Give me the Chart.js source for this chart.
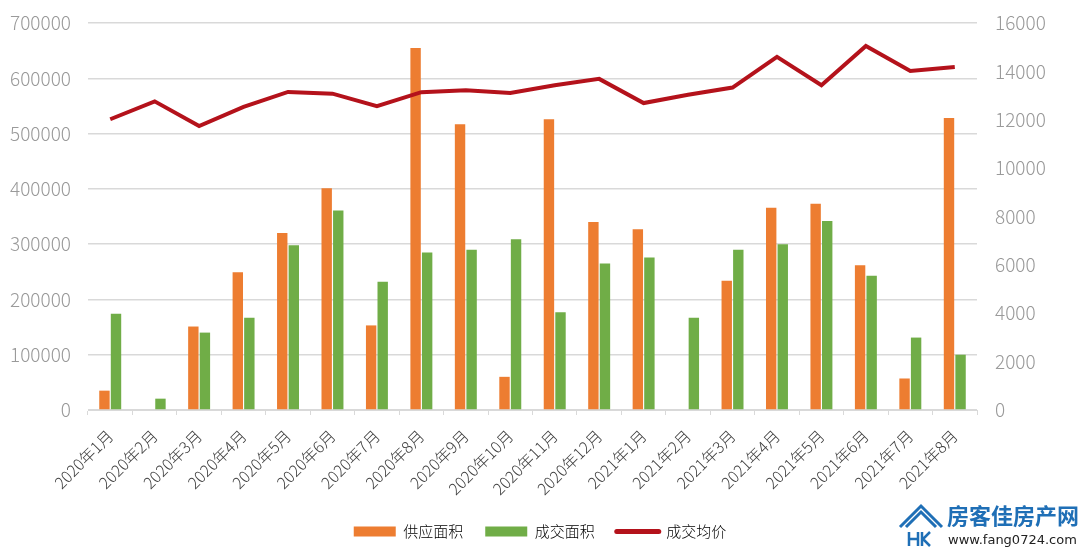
<!DOCTYPE html>
<html>
<head>
<meta charset="utf-8">
<script src="https://cdn.jsdelivr.net/npm/chart.js@4.4.1/dist/chart.umd.min.js"></script>
<style>
  html, body { margin: 0; padding: 0; background: #fff; }
  #wrap { width: 1080px; height: 554px; position: relative; }
</style>
</head>
<body>
<div id="wrap"><canvas id="mix"></canvas></div>
<script>
const months = [
  "2020年1月", "2020年2月", "2020年3月", "2020年4月", "2020年5月", "2020年6月",
  "2020年7月", "2020年8月", "2020年9月", "2020年10月", "2020年11月", "2020年12月",
  "2021年1月", "2021年2月", "2021年3月", "2021年4月", "2021年5月", "2021年6月",
  "2021年7月", "2021年8月"
];
const supplyArea = [
  35000, 0, 151000, 249000, 320000, 401000, 153000, 655000, 517000, 60000,
  526000, 340000, 327000, 0, 234000, 366000, 373000, 262000, 57000, 528000
];
const dealArea = [
  174000, 20500, 140000, 167000, 298000, 361000, 232000, 285000, 290000, 309000,
  177000, 265000, 276000, 167000, 290000, 300000, 342000, 243000, 131000, 100000
];
const avgPrice = [
  12020, 12760, 11740, 12530, 13150, 13080, 12560, 13140, 13220, 13110,
  13430, 13690, 12690, 13030, 13330, 14600, 13430, 15050, 14020, 14180
];

const orange = "#ed7d31";
const green = "#70ad47";
const red = "#b4121b";
const grid = "#d9d9d9";
const font = "'Noto Sans CJK SC', 'Noto Sans', sans-serif";

// watermark bottom right
const watermark = {
  id: "watermark",
  afterDraw(chart) {
    const c = chart.ctx;
    c.save();
    c.strokeStyle = "#1f6fb6";
    c.fillStyle = "#1f6fb6";
    c.lineWidth = 3;
    c.lineJoin = "miter";
    // roof
    c.beginPath();
    c.moveTo(900, 527);
    c.lineTo(921, 506);
    c.lineTo(942, 527);
    c.moveTo(906, 527);
    c.lineTo(921, 512);
    c.lineTo(936, 527);
    c.stroke();
    // H K
    c.lineWidth = 2.5;
    c.beginPath();
    c.moveTo(909, 532); c.lineTo(909, 546);
    c.moveTo(909, 539); c.lineTo(918, 539);
    c.moveTo(918, 532); c.lineTo(918, 546);
    c.moveTo(922, 532); c.lineTo(922, 546);
    c.moveTo(930, 532); c.lineTo(923, 539); c.lineTo(930, 546);
    c.stroke();
    c.font = "bold 22px 'Noto Sans CJK SC', sans-serif";
    c.textBaseline = "middle";
    c.fillText("房客佳房产网", 947, 516);
    c.fillStyle = "#222";
    c.font = "13px 'DejaVu Sans', sans-serif";
    c.fillText("www.fang0724.com", 948, 541);
    c.restore();
  }
};

const plain = (v) => String(v);

new Chart(document.getElementById("mix"), {
  data: {
    labels: months,
    datasets: [
      {
        type: "line",
        label: "成交均价",
        data: avgPrice,
        yAxisID: "y1",
        borderColor: red,
        backgroundColor: red,
        borderWidth: 4,
        pointRadius: 0,
        tension: 0,
        order: 0,
      },
      {
        type: "bar",
        label: "供应面积",
        data: supplyArea,
        yAxisID: "y",
        backgroundColor: orange,
        categoryPercentage: 0.52,
        barPercentage: 0.9,
        order: 1,
      },
      {
        type: "bar",
        label: "成交面积",
        data: dealArea,
        yAxisID: "y",
        backgroundColor: green,
        categoryPercentage: 0.52,
        barPercentage: 0.9,
        order: 1,
      },
    ],
  },
  options: {
    responsive: true,
    maintainAspectRatio: false,
    animation: false,
    layout: { autoPadding: false, padding: { top: 23, bottom: 5 } },
    scales: {
      x: {
        offset: true,
        grid: { drawOnChartArea: false, drawTicks: true, tickLength: 5, color: grid, offset: true },
        border: { color: grid },
        ticks: {
          minRotation: 45, maxRotation: 45, autoSkip: false,
          color: "#404040", font: { family: font, size: 16, weight: 300 }, padding: 11,
        },
        afterFit(s) { s.height = 92; s.paddingTop = 0; },
      },
      y: {
        position: "left",
        min: 0, max: 700000,
        ticks: { stepSize: 100000, callback: plain, color: "#9a9a9a", padding: 17, font: { family: font, size: 19, weight: 300 } },
        grid: { color: grid, drawTicks: false, lineWidth: 1.5 },
        border: { display: false },
        afterFit(s) { s.width = 88; s.paddingTop = 0; s.paddingBottom = 0; },
      },
      y1: {
        position: "right",
        min: 0, max: 16000,
        ticks: { stepSize: 2000, callback: plain, color: "#9a9a9a", padding: 18, font: { family: font, size: 19, weight: 300 } },
        grid: { drawOnChartArea: false, drawTicks: false },
        border: { display: false },
        afterFit(s) { s.width = 103; s.paddingTop = 0; s.paddingBottom = 0; },
      },
    },
    plugins: {
      legend: {
        position: "bottom",
        labels: {
          usePointStyle: true,
          pointStyleWidth: 42,
          boxHeight: 10,
          padding: 22,
          color: "#8c8c8c",
          font: { family: font, size: 15, weight: 300 },
          generateLabels() {
            return [
              { text: "供应面积", fillStyle: orange, strokeStyle: orange, lineWidth: 0, pointStyle: "rect", datasetIndex: 1 },
              { text: "成交面积", fillStyle: green, strokeStyle: green, lineWidth: 0, pointStyle: "rect", datasetIndex: 2 },
              { text: "成交均价", fillStyle: red, strokeStyle: red, lineWidth: 5, lineCap: "round", pointStyle: "line", datasetIndex: 0 },
            ];
          },
        },
      },
      tooltip: { enabled: false },
    },
  },
  plugins: [watermark],
});
</script>
</body>
</html>
